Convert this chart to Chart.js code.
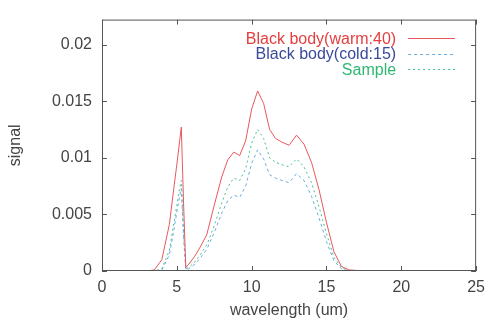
<!DOCTYPE html>
<html>
<head>
<meta charset="utf-8">
<script src="https://cdn.jsdelivr.net/npm/chart.js@4.4.1/dist/chart.umd.min.js"></script>
<style>
    body { margin: 0; background: #fff; }
    #wrap { width: 492px; height: 320px; }
</style>
</head>
<body>
<div id="wrap"><canvas id="signalChart"></canvas></div>
<script>
const wavelength = [2, 3, 3.5, 4.0, 4.5, 4.8, 5.0, 5.2, 5.3, 5.45,
    5.6, 5.8, 6.2, 6.6, 7.0, 7.5, 8.0, 8.4, 8.8, 9.2,
    9.6, 10.0, 10.4, 10.8, 11.2, 11.6, 12.0, 12.5, 13.0, 13.5,
    14.0, 14.5, 15.0, 15.5, 16.0, 16.5, 17.5];

const warmBody = [0, 0, 0.0001, 0.0010, 0.0041, 0.0073, 0.0094, 0.0116, 0.0127, 0.0060,
    0.0003, 0.0006, 0.0013, 0.0022, 0.0032, 0.0058, 0.0083, 0.0098, 0.0105, 0.0102,
    0.0115, 0.0143, 0.0159, 0.0148, 0.0125, 0.0117, 0.0114, 0.0111, 0.0120, 0.0112,
    0.0096, 0.0072, 0.0043, 0.0017, 0.0004, 0.0001, 0];

const coldBody = [0, 0, 0, 0.0001, 0.0014, 0.0036, 0.0052, 0.0067, 0.0073, 0.0030,
    0.0001, 0.0002, 0.0006, 0.0012, 0.0019, 0.0034, 0.0051, 0.0062, 0.0067, 0.0065,
    0.0075, 0.0095, 0.0107, 0.0099, 0.0085, 0.0082, 0.0080, 0.0078, 0.0086, 0.0080,
    0.0066, 0.0047, 0.0026, 0.0009, 0.0002, 0, 0];

const sample = [0, 0, 0, 0.0002, 0.0018, 0.0042, 0.0058, 0.0074, 0.0080, 0.0035,
    0.0002, 0.0003, 0.0008, 0.0015, 0.0023, 0.0040, 0.0060, 0.0074, 0.0082, 0.0080,
    0.0090, 0.0113, 0.0125, 0.0117, 0.0100, 0.0096, 0.0094, 0.0092, 0.0099, 0.0092,
    0.0078, 0.0057, 0.0033, 0.0012, 0.0003, 0, 0];

const seriesLabels = ['Black body(warm:40)', 'Black body(cold:15)', 'Sample'];
const xTicks = [0, 5, 10, 15, 20, 25];
const yTicks = [0, 0.005, 0.01, 0.015, 0.02];

const FONT = 'Liberation Sans, Arial, sans-serif';

const toPoints = (ys) => wavelength.map((x, i) => ({ x, y: ys[i] }));

// gnuplot-like frame with inward ticks on all four sides, plus the legend
const framePlugin = {
    id: 'frame',
    afterDraw(chart) {
        const { ctx, chartArea: a, scales } = chart;
        ctx.save();
        ctx.strokeStyle = '#555';
        ctx.lineWidth = 1;
        ctx.strokeRect(a.left + 0.5, a.top + 0.5, a.right - a.left - 1, a.bottom - a.top - 1);
        ctx.beginPath();
        for (const v of xTicks) {
            const px = Math.round(scales.x.getPixelForValue(v)) + 0.5;
            ctx.moveTo(px, a.bottom); ctx.lineTo(px, a.bottom - 5);
            ctx.moveTo(px, a.top); ctx.lineTo(px, a.top + 5);
        }
        for (const v of yTicks) {
            const py = Math.round(scales.y.getPixelForValue(v)) + 0.5;
            ctx.moveTo(a.left, py); ctx.lineTo(a.left + 5, py);
            ctx.moveTo(a.right, py); ctx.lineTo(a.right - 5, py);
        }
        ctx.stroke();

        // legend: text right aligned, line sample after it
        ctx.font = '16px ' + FONT;
        ctx.textAlign = 'right';
        ctx.textBaseline = 'middle';
        chart.data.datasets.forEach((ds, i) => {
            const y = a.top + 18.5 + i * 15.5;
            ctx.fillStyle = ds.textColor;
            ctx.fillText(ds.label, a.right - 80, y + 1);
            ctx.strokeStyle = ds.borderColor;
            ctx.lineWidth = 1;
            ctx.setLineDash(ds.borderDash || []);
            ctx.beginPath();
            ctx.moveTo(a.right - 68, Math.round(y) + 0.5);
            ctx.lineTo(a.right - 21, Math.round(y) + 0.5);
            ctx.stroke();
        });
        ctx.restore();
    }
};

const ctx = document.getElementById('signalChart').getContext('2d');
const chart = new Chart(ctx, {
    type: 'scatter',
    data: {
        datasets: [{
            label: seriesLabels[0],
            data: toPoints(warmBody),
            borderColor: '#e8585c',
            textColor: '#e53e3e',
            borderWidth: 1
        }, {
            label: seriesLabels[1],
            data: toPoints(coldBody),
            borderColor: '#6aaedc',
            textColor: '#3a4a9a',
            borderDash: [3, 3],
            borderWidth: 1
        }, {
            label: seriesLabels[2],
            data: toPoints(sample),
            borderColor: '#45c28a',
            textColor: '#2eb872',
            borderDash: [2, 3],
            borderWidth: 1
        }]
    },
    options: {
        responsive: true,
        maintainAspectRatio: false,
        animation: false,
        showLine: true,
        elements: { point: { radius: 0 }, line: { tension: 0 } },
        layout: { padding: { left: 6, right: 9, top: 13, bottom: 0 } },
        plugins: { legend: { display: false }, tooltip: { enabled: false } },
        scales: {
            x: {
                type: 'linear',
                min: 0,
                max: 25,
                grid: { display: false, drawTicks: false },
                border: { display: false },
                afterBuildTicks: (scale) => { scale.ticks = xTicks.map(v => ({ value: v })); },
                afterFit: (scale) => { scale.height = 49; },
                ticks: { padding: 7, color: '#444', font: { family: FONT, size: 16 }, maxRotation: 0 },
                title: { display: true, text: 'wavelength (um)', color: '#444', padding: 0, font: { family: FONT, size: 16 } }
            },
            y: {
                min: 0,
                max: 0.0222,
                grid: { display: false, drawTicks: false },
                border: { display: false },
                afterBuildTicks: (scale) => { scale.ticks = yTicks.map(v => ({ value: v })); },
                afterFit: (scale) => { scale.width = 96; },
                ticks: {
                    padding: 10,
                    color: '#444',
                    font: { family: FONT, size: 16 },
                    callback: (v) => String(+v.toFixed(3))
                },
                title: { display: true, text: 'signal', color: '#444', padding: 0, font: { family: FONT, size: 16 } }
            }
        }
    },
    plugins: [framePlugin]
});
</script>
</body>
</html>
